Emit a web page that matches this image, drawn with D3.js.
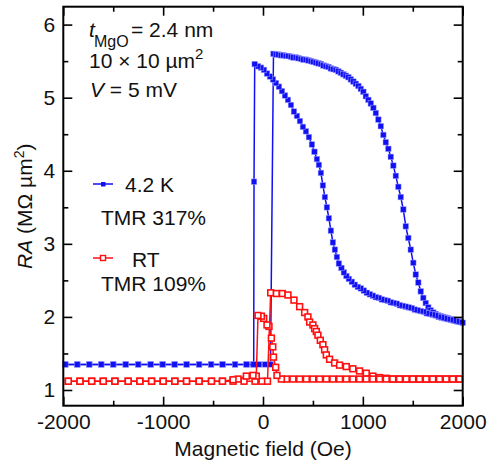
<!DOCTYPE html>
<html>
<head>
<meta charset="utf-8">
<script src="https://cdn.jsdelivr.net/npm/d3@7"></script>
<style>
  html, body { margin: 0; padding: 0; background: #fff; }
  svg { display: block; }
  text { font-family: "Liberation Sans", Arial, Helvetica, sans-serif; fill: #111; }
</style>
</head>
<body>
<svg id="chart" width="487" height="466"></svg>
<script>
// Magnetoresistance loops of an MgO tunnel junction: RA vs applied field.

// 4.2 K, field swept upward (-2000 -> +2000 Oe)
const blueUpField = [-1980,-1860,-1740,-1620,-1500,-1375,-1250,-1125,-1005,-885,-765,-640,-520,-405,-280,-165,-100,-40,20,75,
  105,130,155,180,205,230,255,280,305,330,355,380,405,430,455,480,505,530,555,580,605,630,655,680,705,730,755,780,805,830,855,880,905,930,955,980,1005,
  1030,1055,1080,1105,1130,1155,1180,1205,1230,1255,1280,1305,1330,1355,1380,1405,1430,1455,1480,1505,1530,1555,1580,1605,1630,1655,1680,1705,1730,1755,1780,1805,1830,1855,1880,1905,1930,1955,1980];
const blueUpRA = [1.35,1.35,1.35,1.35,1.35,1.35,1.35,1.35,1.35,1.35,1.35,1.35,1.35,1.35,1.35,1.35,1.35,1.35,1.35,1.35,
  5.60,5.59,5.59,5.58,5.58,5.57,5.57,5.56,5.55,5.55,5.54,5.53,5.52,5.52,5.51,5.50,5.49,5.48,5.47,5.46,5.44,5.43,5.42,5.40,5.39,5.38,5.36,5.34,5.32,5.30,5.28,5.25,5.22,5.19,5.16,5.12,5.08,
  5.02,4.97,4.92,4.86,4.79,4.70,4.61,4.49,4.39,4.30,4.19,4.07,3.93,3.78,3.64,3.47,3.24,3.08,2.92,2.74,2.58,2.47,2.35,2.26,2.19,2.13,2.09,2.06,2.04,2.02,2.01,2.00,1.99,1.98,1.97,1.96,1.95,1.94,1.93];

// 4.2 K, field swept downward (+2000 -> -2000 Oe)
const blueDownField = [2000,1970,1940,1910,1880,1850,1820,1790,1760,1730,1700,1670,1640,1610,1580,1550,1520,1490,1460,1430,1400,1370,1340,1310,1280,1250,1220,1190,1160,1130,1100,1070,1040,1010,
  980,950,920,890,860,835,810,785,760,740,720,700,680,660,640,620,600,580,560,540,515,490,460,430,400,370,340,310,280,250,220,190,160,130,100,70,40,10,-20,-50,-83,
  -90,-93,-165,-280,-405,-520,-640,-765,-885,-1005,-1125,-1250,-1375,-1500,-1620,-1740,-1860,-1980];
const blueDownRA = [1.92,1.93,1.94,1.95,1.96,1.97,1.98,1.99,2.00,2.02,2.03,2.04,2.05,2.07,2.08,2.09,2.10,2.12,2.13,2.14,2.15,2.16,2.18,2.19,2.20,2.22,2.23,2.24,2.26,2.27,2.29,2.31,2.33,2.36,
  2.39,2.41,2.44,2.48,2.52,2.56,2.61,2.67,2.73,2.82,2.92,3.02,3.18,3.35,3.50,3.64,3.80,3.97,4.08,4.16,4.26,4.36,4.46,4.54,4.60,4.68,4.75,4.81,4.90,4.97,5.03,5.09,5.15,5.20,5.25,5.29,5.33,5.38,5.41,5.43,5.46,
  3.85,1.35,1.35,1.35,1.35,1.35,1.35,1.35,1.35,1.35,1.35,1.35,1.35,1.35,1.35,1.35,1.35,1.35];

// Room temperature, field swept upward
const redUpField = [-1950,-1833,-1716,-1600,-1483,-1350,-1233,-1116,-1000,-883,-766,-640,-516,-406,-300,-190,-80,-10,45,
  77,134,194,250,310,367,417,450,467,500,517,534,550,574,600,617,634,667,717,767,834,900,967,1034,1100,1167,1234,
  1300,1367,1434,1500,1567,1634,1700,1767,1834,1900,1967];
const redUpRA = [1.12,1.12,1.12,1.12,1.12,1.12,1.12,1.12,1.12,1.12,1.12,1.12,1.12,1.12,1.12,1.12,1.12,1.12,1.12,
  2.33,2.32,2.32,2.30,2.23,2.14,2.06,2.00,1.93,1.89,1.84,1.80,1.75,1.68,1.62,1.55,1.48,1.42,1.37,1.34,1.32,1.29,1.26,1.23,1.19,1.17,1.16,
  1.15,1.15,1.15,1.15,1.15,1.15,1.15,1.15,1.15,1.15,1.15];

// Room temperature, field swept downward
const redDownField = [1967,1900,1834,1767,1700,1634,1567,1500,1434,1367,1300,1234,1167,1100,1034,967,900,834,767,700,634,567,500,434,367,300,234,184,
  140,127,105,98,84,60,40,7,-16,-50,-67,-100,-167,-250,-300,
  -406,-516,-640,-766,-883,-1000,-1116,-1233,-1350,-1483,-1600,-1716,-1833,-1950];
const redDownRA = [1.15,1.15,1.15,1.15,1.15,1.15,1.15,1.15,1.15,1.15,1.15,1.15,1.15,1.15,1.15,1.15,1.15,1.15,1.15,1.15,1.15,1.15,1.15,1.15,1.15,1.15,1.15,1.15,
  1.20,1.31,1.45,1.59,1.71,1.87,1.89,1.98,2.01,2.02,1.19,1.20,1.19,1.15,1.14,
  1.12,1.12,1.12,1.12,1.12,1.12,1.12,1.12,1.12,1.12,1.12,1.12,1.12,1.12];

const xMajorTicks = [-2000, -1000, 0, 1000, 2000];
const xMinorTicks = [-1500, -500, 500, 1500];
const yMajorTicks = [1, 2, 3, 4, 5, 6];
const yMinorTicks = [1.5, 2.5, 3.5, 4.5, 5.5];

const BLUE = "#1010f2";
const RED = "#ff1010";
const FONT = 21;

const svg = d3.select("#chart");
const frame = {left: 63.3, right: 462.7, top: 6.7, bottom: 405.7};

const x = d3.scaleLinear().domain([-2000, 2000]).range([frame.left, frame.right]);
const y = d3.scaleLinear().domain([0.785, 6.245]).range([frame.bottom, frame.top]);

const zip = (hs, rs) => hs.map((h, i) => ({h, r: rs[i]}));
const series = {
  blueUp: zip(blueUpField, blueUpRA),
  blueDown: zip(blueDownField, blueDownRA),
  redUp: zip(redUpField, redUpRA),
  redDown: zip(redDownField, redDownRA)
};

const line = d3.line().x(d => x(d.h)).y(d => y(d.r));
const plot = svg.append("g");

function drawBlue(data) {
  plot.append("path").datum(data).attr("d", line)
    .attr("fill", "none").attr("stroke", BLUE).attr("stroke-width", 1.5);
}
function blueMarks(data) {
  const s = 5.6;
  plot.append("g").selectAll("rect").data(data).join("rect")
    .attr("x", d => x(d.h) - s / 2).attr("y", d => y(d.r) - s / 2)
    .attr("width", s).attr("height", s)
    .attr("fill", BLUE).attr("stroke", "#a8a8ff").attr("stroke-width", 0.5);
}
function drawRed(data) {
  plot.append("path").datum(data).attr("d", line)
    .attr("fill", "none").attr("stroke", RED).attr("stroke-width", 1.5);
}
function redMarks(data) {
  const s = 5.8;
  plot.append("g").selectAll("rect").data(data).join("rect")
    .attr("x", d => x(d.h) - s / 2).attr("y", d => y(d.r) - s / 2)
    .attr("width", s).attr("height", s)
    .attr("fill", "#fff").attr("stroke", RED).attr("stroke-width", 1.6);
}

drawBlue(series.blueUp);
blueMarks(series.blueUp);
drawBlue(series.blueDown);
blueMarks(series.blueDown);
drawRed(series.redUp);
redMarks(series.redUp);
drawRed(series.redDown);
redMarks(series.redDown);

// Axes: ticks point inward on all four sides
const plainNumber = d => String(d);
function tickAxis(gen, scale, values, size, transform, labels) {
  const a = gen(scale).tickValues(values).tickSize(-size).tickPadding(8);
  a.tickFormat(labels ? plainNumber : "");
  const g = svg.append("g").attr("transform", transform).call(a);
  g.select(".domain").remove();
  g.selectAll(".tick line").attr("stroke", "#000").attr("stroke-width", 1.6);
  g.selectAll(".tick text").attr("font-size", FONT)
    .attr("font-family", '"Liberation Sans", Arial, sans-serif').attr("fill", "#111");
  return g;
}
tickAxis(d3.axisBottom, x, xMajorTicks, 9, `translate(0,${frame.bottom})`, true);
tickAxis(d3.axisBottom, x, xMinorTicks, 5, `translate(0,${frame.bottom})`, false);
tickAxis(d3.axisTop, x, xMajorTicks, 9, `translate(0,${frame.top})`, false);
tickAxis(d3.axisTop, x, xMinorTicks, 5, `translate(0,${frame.top})`, false);
tickAxis(d3.axisLeft, y, yMajorTicks, 9, `translate(${frame.left},0)`, true);
tickAxis(d3.axisLeft, y, yMinorTicks, 5, `translate(${frame.left},0)`, false);
tickAxis(d3.axisRight, y, yMajorTicks, 9, `translate(${frame.right},0)`, false);
tickAxis(d3.axisRight, y, yMinorTicks, 5, `translate(${frame.right},0)`, false);

svg.append("rect").attr("x", frame.left).attr("y", frame.top)
  .attr("width", frame.right - frame.left).attr("height", frame.bottom - frame.top)
  .attr("fill", "none").attr("stroke", "#000").attr("stroke-width", 2);

// Axis titles
svg.append("text").attr("x", (frame.left + frame.right) / 2).attr("y", 456)
  .attr("text-anchor", "middle").attr("font-size", FONT).text("Magnetic field (Oe)");

const yt = svg.append("text").attr("transform", `translate(32,${(frame.top + frame.bottom) / 2}) rotate(-90)`)
  .attr("text-anchor", "middle").attr("font-size", FONT);
yt.append("tspan").attr("font-style", "italic").text("RA");
yt.append("tspan").text(" (MΩ µm");
yt.append("tspan").attr("font-size", 14).attr("dy", -8).text("2");
yt.append("tspan").attr("dy", 8).text(")");

// Sample description
svg.append("text").attr("x", 89).attr("y", 37).attr("font-size", FONT)
  .attr("font-style", "italic").text("t");
svg.append("text").attr("x", 94).attr("y", 47).attr("font-size", 16).text("MgO");
svg.append("text").attr("x", 131).attr("y", 37).attr("font-size", FONT).text("= 2.4 nm");
const area = svg.append("text").attr("x", 89).attr("y", 68).attr("font-size", FONT);
area.append("tspan").text("10 × 10 µm");
area.append("tspan").attr("font-size", 15).attr("dy", -9).text("2");
const volt = svg.append("text").attr("x", 90).attr("y", 97).attr("font-size", FONT);
volt.append("tspan").attr("font-style", "italic").text("V");
volt.append("tspan").text(" = 5 mV");

// Legend
const lg = svg.append("g");
lg.append("line").attr("x1", 93).attr("x2", 113).attr("y1", 184).attr("y2", 184)
  .attr("stroke", BLUE).attr("stroke-width", 1.5);
lg.append("rect").attr("x", 101).attr("y", 182).attr("width", 4.5).attr("height", 4.5).attr("fill", BLUE);
lg.append("text").attr("x", 125).attr("y", 192).attr("font-size", FONT).text("4.2 K");
lg.append("text").attr("x", 101).attr("y", 225).attr("font-size", FONT).text("TMR 317%");
lg.append("line").attr("x1", 93).attr("x2", 113).attr("y1", 258).attr("y2", 258)
  .attr("stroke", RED).attr("stroke-width", 1.5);
lg.append("rect").attr("x", 100.5).attr("y", 255.5).attr("width", 5).attr("height", 5)
  .attr("fill", "#fff").attr("stroke", RED).attr("stroke-width", 1.4);
lg.append("text").attr("x", 132).attr("y", 267).attr("font-size", FONT).text("RT");
lg.append("text").attr("x", 101).attr("y", 291).attr("font-size", FONT).text("TMR 109%");
</script>
</body>
</html>
